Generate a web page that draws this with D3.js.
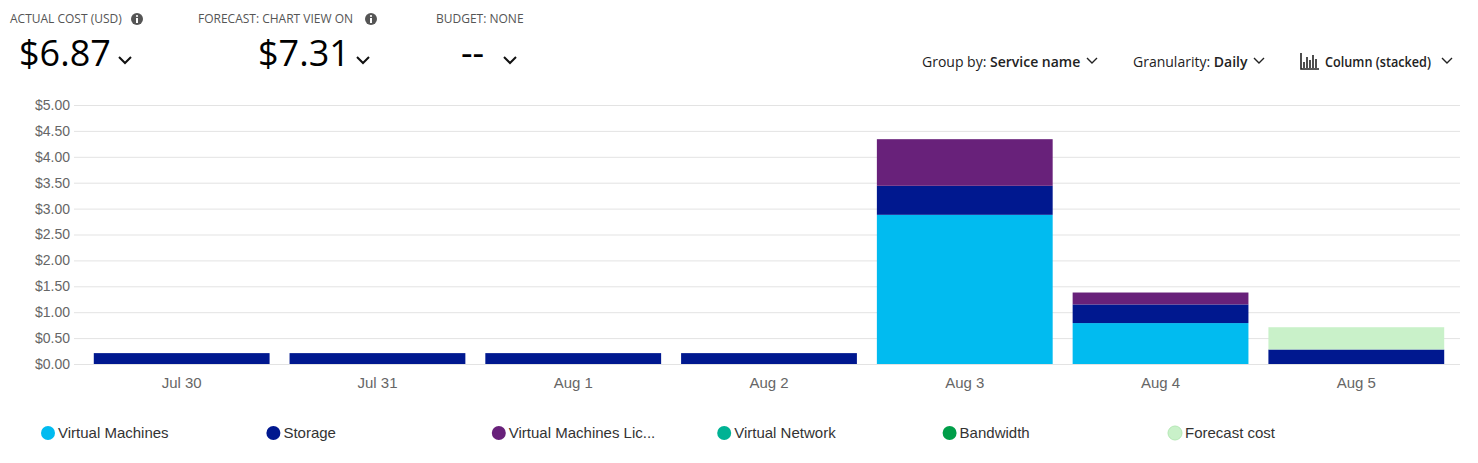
<!DOCTYPE html>
<html><head><meta charset="utf-8">
<script src="https://cdn.jsdelivr.net/npm/d3@7"></script>
<style>body{margin:0;background:#fff;}svg{display:block;}</style>
</head><body>
<script>
const categories = ["Jul 30","Jul 31","Aug 1","Aug 2","Aug 3","Aug 4","Aug 5"];
const seriesNames = ["Virtual Machines","Storage","Virtual Machines Lic...","Virtual Network","Bandwidth","Forecast cost"];
const seriesColors = ["#01bbf0","#00188f","#68217a","#00b294","#009e49","#c9f1c9"];
const virtualMachines = [0,0,0,0,2.88,0.79,0];
const storage = [0.21,0.21,0.21,0.21,0.56,0.36,0.28];
const vmLicenses = [0,0,0,0,0.90,0.23,0];
const virtualNetwork = [0,0,0,0,0,0,0];
const bandwidth = [0,0,0,0,0,0,0];
const forecast = [0,0,0,0,0,0,0.43];
const yTicks = [0,0.5,1,1.5,2,2.5,3,3.5,4,4.5,5];

const W=1478,H=463;
const svg=d3.select("body").append("svg").attr("width",W).attr("height",H);
const keys=["vm","st","lic","vn","bw","fc"];
const rows=categories.map((c,i)=>({cat:c,vm:virtualMachines[i],st:storage[i],lic:vmLicenses[i],vn:virtualNetwork[i],bw:bandwidth[i],fc:forecast[i]}));
const stacked=d3.stack().keys(keys)(rows);

const x=d3.scaleBand().domain(categories).range([84,1454]).paddingInner(0.102).paddingOuter(0.05);
const y=d3.scaleLinear().domain([0,5]).range([364,105]);
const af="'Liberation Sans',Arial,sans-serif";

// gridlines + y labels
const yAxis=svg.append("g").attr("transform","translate(74,0)")
  .call(d3.axisRight(y).tickValues(yTicks).tickSize(1386).tickFormat(d=>"$"+d.toFixed(2)));
yAxis.select(".domain").remove();
yAxis.selectAll(".tick line").attr("stroke","#e3e3e3").attr("stroke-width",1);
yAxis.selectAll(".tick text").attr("x",-4).attr("text-anchor","end").attr("fill","#666")
  .style("font-family",af).style("font-size","14px");

// bars
svg.append("g").selectAll("g").data(stacked).join("g")
  .attr("fill",(d,i)=>seriesColors[i])
  .selectAll("rect").data(d=>d.filter(p=>p[1]-p[0]>0)).join("rect")
  .attr("x",d=>x(d.data.cat)).attr("width",x.bandwidth())
  .attr("y",d=>y(d[1])).attr("height",d=>y(d[0])-y(d[1]));

// x axis
const xAxis=svg.append("g").attr("transform","translate(0,364)")
  .call(d3.axisBottom(x).tickSize(0).tickPadding(13));
xAxis.select(".domain").remove();
xAxis.selectAll(".tick text").attr("fill","#666")
  .style("font-family",af).style("font-size","15px");

// legend
const lg=svg.append("g").selectAll("g").data(seriesNames).join("g")
  .attr("transform",(d,i)=>`translate(${48+i*225.4},433)`);
lg.append("circle").attr("r",7).attr("fill",(d,i)=>seriesColors[i])
  .attr("stroke",(d,i)=>i===5?"#b5e8b5":"none");
lg.append("text").attr("x",10).attr("dy","0.35em").text(d=>d).attr("fill","#333")
  .style("font-family",af).style("font-size","15px");

// header
const hf="'Open Sans','Noto Sans',sans-serif";
const kpis=[{label:"ACTUAL COST (USD)",lx:10,info:137,val:"$6.87",vx:19,chev:125},
            {label:"FORECAST: CHART VIEW ON",lx:198,info:371,val:"$7.31",vx:258,chev:363},
            {label:"BUDGET: NONE",lx:436,info:null,val:"--",vx:461,chev:510}];
kpis.forEach(k=>{
  svg.append("text").attr("x",k.lx).attr("y",23).text(k.label).attr("fill","#555")
    .style("font-family",hf).style("font-size","12px");
  if(k.info){
    svg.append("circle").attr("cx",k.info).attr("cy",19).attr("r",6).attr("fill","#555");
    svg.append("rect").attr("x",k.info-1).attr("y",18).attr("width",2).attr("height",5).attr("fill","#fff");
    svg.append("circle").attr("cx",k.info).attr("cy",16).attr("r",1.1).attr("fill","#fff");
  }
  svg.append("text").attr("x",k.vx).attr("y",66).text(k.val).attr("fill","#000")
    .style("font-family",hf).style("font-size","36px");
  svg.append("path").attr("d",`M${k.chev-6},${57}l6,6l6,-6`).attr("fill","none").attr("stroke","#111").attr("stroke-width",2);
});

// right controls
const ctl=svg.append("g").style("font-family",hf).style("font-size","14px").attr("fill","#222");
function control(x0,label,val,chevX,len){
  const t=ctl.append("text").attr("x",x0).attr("y",67);
  t.append("tspan").text(label);
  const v=t.append("tspan").text(val).attr("font-weight","600");
  if(len) t.attr("textLength",len).attr("lengthAdjust","spacingAndGlyphs");
  svg.append("path").attr("d",`M${chevX-5},${58}l5,5l5,-5`).attr("fill","none").attr("stroke","#222").attr("stroke-width",1.4);
}
control(922,"Group by: ","Service name",1092);
control(1133,"Granularity: ","Daily",1259);
control(1325,"","Column (stacked)",1447,106);
// chart icon
const ic=svg.append("g").attr("stroke","#222").attr("stroke-width",1.6);
ic.append("path").attr("d","M1301,53V69H1319").attr("fill","none");
[[1304,62],[1307,57],[1310,60],[1313,55],[1316,59]].forEach(([px,py])=>ic.append("line").attr("x1",px).attr("x2",px).attr("y1",py).attr("y2",68));
</script>
</body></html>
